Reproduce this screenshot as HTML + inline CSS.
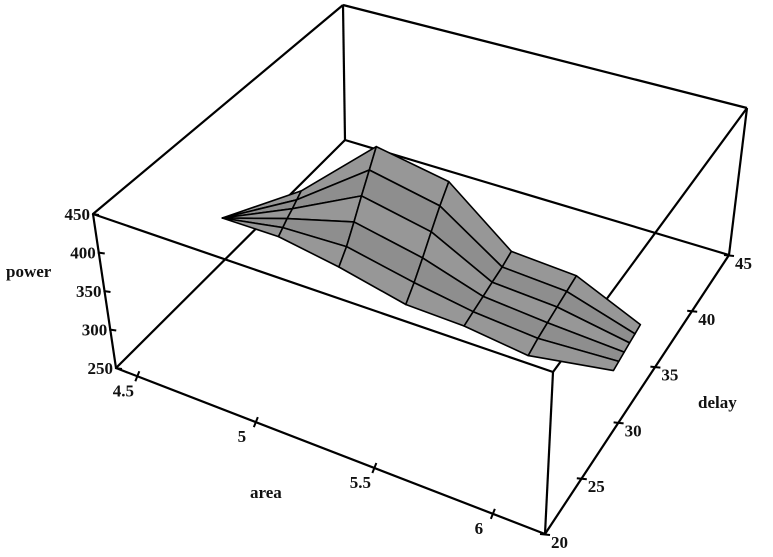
<!DOCTYPE html>
<html><head><meta charset="utf-8"><style>
html,body{margin:0;padding:0;background:#fff;}
svg{display:block;}
text{font-family:"Liberation Serif",serif;font-weight:bold;font-size:17px;fill:#111;}
</style></head><body>
<svg id="chart" width="773" height="557" viewBox="0 0 773 557" xmlns="http://www.w3.org/2000/svg">
<g id="box"></g>
<g id="surface"></g>
<g id="axes"></g>
<text x="6" y="277">power</text>
<text x="250" y="498">area</text>
<text x="698" y="408">delay</text>
</svg>
<script>
// ---- data ----
const areaRange = [4.41, 6.22];
const delayRange = [20, 45];
const powerRange = [250, 450];
const areaCols = [4.41, 4.69, 4.95, 5.24, 5.52, 5.80, 6.11];
const delayGrid = [
  [32, 31.2, 31.2, 31.2, 30.5, 30.5, 32.5],
  [32, 31.7, 32.1, 32.2, 31.6, 31.7, 33.2],
  [32, 32.2, 33.0, 33.2, 32.8, 32.9, 33.9],
  [32, 32.8, 33.9, 34.2, 33.9, 34.1, 34.6],
  [32, 33.3, 34.8, 35.2, 35.1, 35.3, 35.3],
  [32, 33.8, 35.6, 36.2, 36.2, 36.5, 36.0]
];
const powerGrid = [
  [306, 320, 306, 286, 296, 286, 270],
  [306, 326, 322, 302, 300, 292, 272],
  [306, 332, 344, 322, 304, 296, 274],
  [306, 338, 368, 344, 308, 300, 276],
  [306, 344, 392, 366, 312, 304, 278],
  [306, 350, 414, 386, 318, 308, 280]
];
const powerTicks = [250, 300, 350, 400, 450];
const areaTicks = [4.5, 5, 5.5, 6];
const areaTickLabels = ["4.5", "5", "5.5", "6"];
const delayTicks = [20, 25, 30, 35, 40, 45];

// ---- projection (box corners) ----
const B=[116,368], C=[545,534], D=[729,255], E=[345,140];
const A=[93,214], F=[553,372], G=[747,108], H=[343,5];
function bil(p00,p10,p11,p01,u,v){
  return [(1-u)*(1-v)*p00[0]+u*(1-v)*p10[0]+u*v*p11[0]+(1-u)*v*p01[0],
          (1-u)*(1-v)*p00[1]+u*(1-v)*p10[1]+u*v*p11[1]+(1-u)*v*p01[1]];
}
function proj(area, delay, power){
  const u=(area-areaRange[0])/(areaRange[1]-areaRange[0]);
  const v=(delay-delayRange[0])/(delayRange[1]-delayRange[0]);
  const w=(power-powerRange[0])/(powerRange[1]-powerRange[0]);
  const b=bil(B,C,D,E,u,v), t=bil(A,F,G,H,u,v);
  return [b[0]+(t[0]-b[0])*w, b[1]+(t[1]-b[1])*w];
}
const NS="http://www.w3.org/2000/svg";
function mk(tag, attrs, parent){
  const el=document.createElementNS(NS,tag);
  for(const k in attrs) el.setAttribute(k, attrs[k]);
  parent.appendChild(el); return el;
}
// ---- box ----
const boxG=document.getElementById('box');
const edges=[[B,C],[C,D],[D,E],[E,B],[A,F],[F,G],[G,H],[H,A],[A,B],[F,C],[G,D],[H,E]];
edges.forEach(e=>{
  const l=mk('line',{x1:e[0][0],y1:e[0][1],x2:e[1][0],y2:e[1][1],stroke:'#000','stroke-width':2.2},boxG);
  
  
});
// ---- surface ----
const surfG=document.getElementById('surface');
const nR=delayGrid.length, nC=areaCols.length;
for(let j=nR-2;j>=0;j--){
  for(let i=0;i<nC-1;i++){
    const p1=proj(areaCols[i],delayGrid[j][i],powerGrid[j][i]);
    const p2=proj(areaCols[i+1],delayGrid[j][i+1],powerGrid[j][i+1]);
    const p3=proj(areaCols[i+1],delayGrid[j+1][i+1],powerGrid[j+1][i+1]);
    const p4=proj(areaCols[i],delayGrid[j+1][i],powerGrid[j+1][i]);
    const pts=[p1,p2,p3,p4];
    let s=0; for(let k=0;k<4;k++){const a=pts[k],b=pts[(k+1)%4]; s+=a[0]*b[1]-b[0]*a[1];}
    const fill = s>0 ? '#111' : (j%2? '#8e8e8e':'#979797');
    const poly=mk('polygon',{points:pts.map(p=>p[0].toFixed(1)+','+p[1].toFixed(1)).join(' '),
      fill:fill,stroke:'#000','stroke-width':1.6,'stroke-linejoin':'round'},surfG);
    
    
  }
}
// ---- ticks ----
const axG=document.getElementById('axes');
powerTicks.forEach(p=>{
  const q=proj(areaRange[0],delayRange[0],p);
  const t=mk('line',{x1:q[0]-1,y1:q[1],x2:q[0]+6,y2:q[1]+1,stroke:'#000','stroke-width':2},axG);
  
  
  const lb=mk('text',{x:q[0]-3,y:q[1]+6,'text-anchor':'end'},axG);
  
  
  lb.textContent=p;
});
areaTicks.forEach((a,k)=>{
  const q=proj(a,delayRange[0],powerRange[0]);
  const t=mk('line',{x1:q[0]-2,y1:q[1]+5,x2:q[0]+2,y2:q[1]-5,stroke:'#000','stroke-width':2},axG);
  
  
  const lb=mk('text',{x:q[0]-14,y:q[1]+20,'text-anchor':'middle'},axG);
  
  
  lb.textContent=areaTickLabels[k];
});
delayTicks.forEach(d=>{
  const q=proj(areaRange[1],d,powerRange[0]);
  const t=mk('line',{x1:q[0]-5,y1:q[1],x2:q[0]+5,y2:q[1]+1,stroke:'#000','stroke-width':2},axG);
  
  
  const lb=mk('text',{x:q[0]+6,y:q[1]+14,'text-anchor':'start'},axG);
  
  
  lb.textContent=d;
});
</script>
</body></html>
